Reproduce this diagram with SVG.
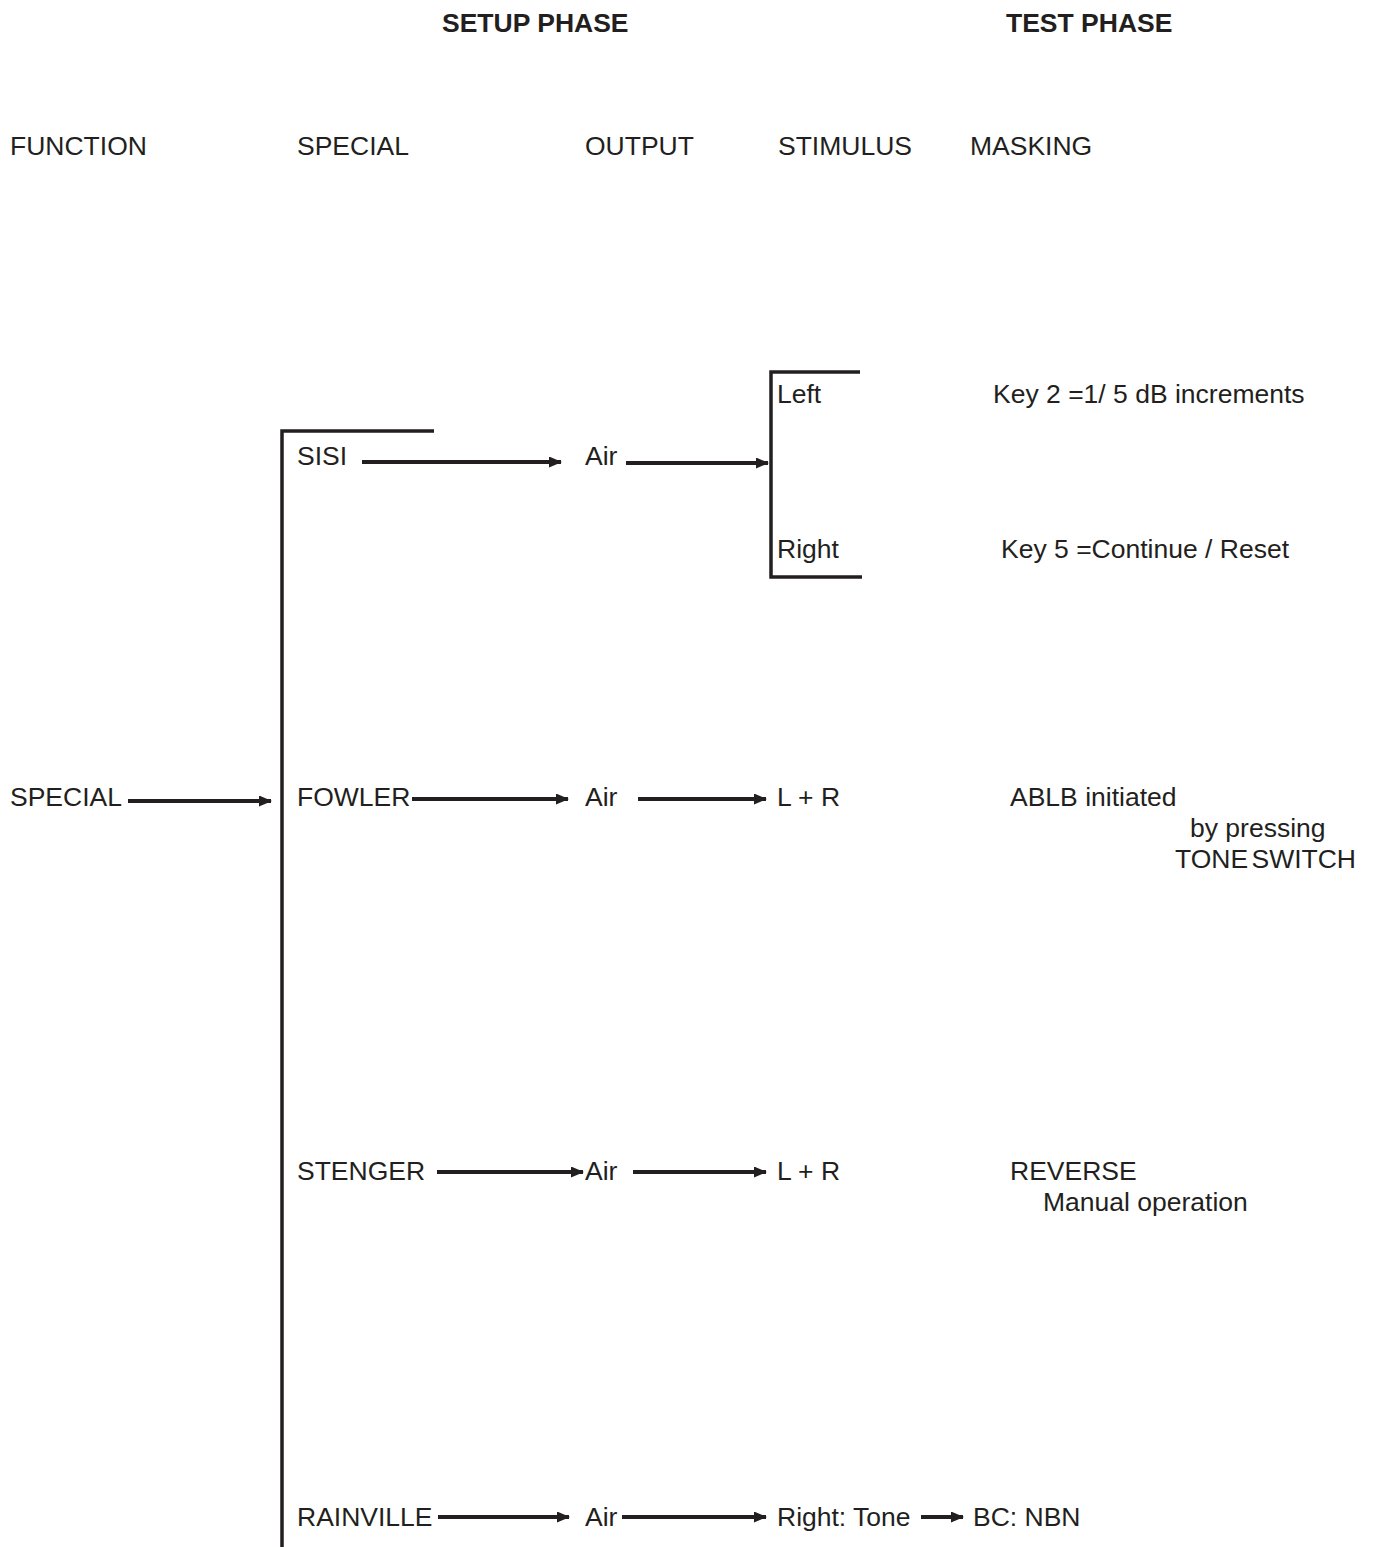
<svg xmlns="http://www.w3.org/2000/svg" width="1388" height="1547" viewBox="0 0 1388 1547">
<style>
text{font-family:"Liberation Sans",Arial,sans-serif;font-size:26.5px;fill:#231f20}
.b{font-weight:bold}
.ln{stroke:#231f20;stroke-width:3.5;fill:none}
.ar{stroke:#231f20;stroke-width:4;fill:none;marker-end:url(#ah)}
</style>
<defs>
<marker id="ah" markerWidth="13" markerHeight="11" refX="12" refY="5.5" orient="auto" markerUnits="userSpaceOnUse">
<path d="M0,0 L13,5.5 L0,11 Z" fill="#231f20"/>
</marker>
</defs>
<rect width="1388" height="1547" fill="#fff"/>
<g id="headers">
<text class="b" x="442" y="32">SETUP PHASE</text>
<text class="b" x="1006" y="32">TEST PHASE</text>
<text x="10" y="155">FUNCTION</text>
<text x="297" y="155">SPECIAL</text>
<text x="585" y="155">OUTPUT</text>
<text x="778" y="155">STIMULUS</text>
<text x="970" y="155">MASKING</text>
</g>
<g id="connectors">
<polyline class="ln" points="434,431 282,431 282,1547"/>
<polyline class="ln" points="860,372 771,372 771,577 862,577"/>
<line class="ar" x1="128" y1="801" x2="271" y2="801"/>
<line class="ar" x1="362" y1="462" x2="561" y2="462"/>
<line class="ar" x1="626" y1="463" x2="768" y2="463"/>
<line class="ar" x1="412" y1="799" x2="568" y2="799"/>
<line class="ar" x1="638" y1="799" x2="766" y2="799"/>
<line class="ar" x1="437" y1="1172" x2="583" y2="1172"/>
<line class="ar" x1="633" y1="1172" x2="766" y2="1172"/>
<line class="ar" x1="438" y1="1517" x2="569" y2="1517"/>
<line class="ar" x1="622" y1="1517" x2="766" y2="1517"/>
<line class="ar" x1="921" y1="1517" x2="963" y2="1517"/>
</g>
<g id="node-special-fn"><text x="10" y="806">SPECIAL</text></g>
<g id="node-sisi"><text x="297" y="465">SISI</text></g>
<g id="node-sisi-air"><text x="585" y="465">Air</text></g>
<g id="node-sisi-left"><text x="777" y="403">Left</text></g>
<g id="node-sisi-right"><text x="777" y="558">Right</text></g>
<g id="node-key2"><text x="993" y="403">Key 2 =1/ 5 dB increments</text></g>
<g id="node-key5"><text x="1001" y="558">Key 5 =Continue / Reset</text></g>
<g id="node-fowler"><text x="297" y="806">FOWLER</text></g>
<g id="node-fowler-air"><text x="585" y="806">Air</text></g>
<g id="node-fowler-lr"><text x="777" y="806">L + R</text></g>
<g id="node-ablb">
<text x="1010" y="806">ABLB initiated</text>
<text x="1190" y="837">by pressing</text>
<text x="1175" y="868" word-spacing="-4">TONE SWITCH</text>
</g>
<g id="node-stenger"><text x="297" y="1180">STENGER</text></g>
<g id="node-stenger-air"><text x="585" y="1180">Air</text></g>
<g id="node-stenger-lr"><text x="777" y="1180">L + R</text></g>
<g id="node-reverse">
<text x="1010" y="1180">REVERSE</text>
<text x="1043" y="1211">Manual operation</text>
</g>
<g id="node-rainville"><text x="297" y="1526">RAINVILLE</text></g>
<g id="node-rainville-air"><text x="585" y="1526">Air</text></g>
<g id="node-rainville-tone"><text x="777" y="1526">Right: Tone</text></g>
<g id="node-bcnbn"><text x="973" y="1526">BC: NBN</text></g>
</svg>
